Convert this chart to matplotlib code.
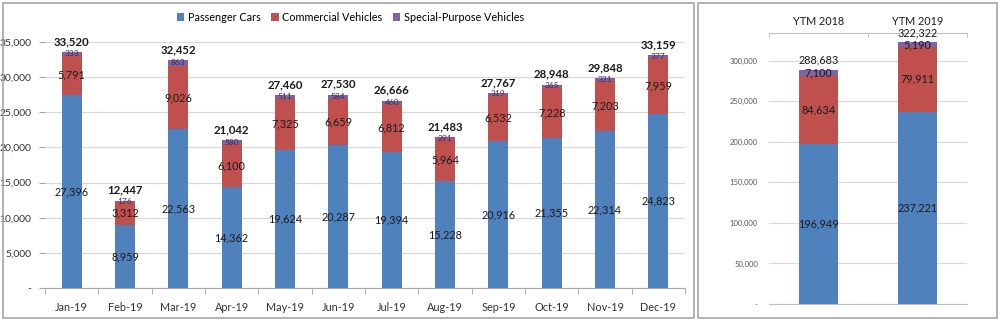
import matplotlib.pyplot as plt
from matplotlib.patches import Rectangle
import numpy as np

plt.rcParams['font.family'] = ['Lato', 'DejaVu Sans']

# monthly sales 2019
months = ['Jan-19', 'Feb-19', 'Mar-19', 'Apr-19', 'May-19', 'Jun-19',
          'Jul-19', 'Aug-19', 'Sep-19', 'Oct-19', 'Nov-19', 'Dec-19']
passenger = [27396, 8959, 22563, 14362, 19624, 20287, 19394, 15228, 20916, 21355, 22314, 24823]
commercial = [5791, 3312, 9026, 6100, 7325, 6659, 6812, 5964, 6532, 7228, 7203, 7959]
special = [333, 176, 863, 580, 511, 584, 460, 291, 319, 365, 331, 377]

# year-to-month totals
ytm_labels = ['YTM 2018', 'YTM 2019']
ytm_passenger = [196949, 237221]
ytm_commercial = [84634, 79911]
ytm_special = [7100, 5190]

c_pass = '#4F81BD'
c_comm = '#C0504D'
c_spec = '#8064A2'
grid_c = '#d9d9d9'

fig = plt.figure(figsize=(10, 3.23), dpi=100)

# panel frames
fig.patches.append(Rectangle((0.003, 0.015), 0.691, 0.975, transform=fig.transFigure,
                             fill=False, edgecolor='#a6a6a6', linewidth=1.2))
fig.patches.append(Rectangle((0.698, 0.015), 0.299, 0.975, transform=fig.transFigure,
                             fill=False, edgecolor='#a6a6a6', linewidth=1.2))

# ---- monthly chart ----
ax = fig.add_axes([0.045, 0.1084, 0.64, 0.805])
x = np.arange(len(months))
w = 0.38
p = np.array(passenger)
c = np.array(commercial)
s = np.array(special)
tot = p + c + s

ax.bar(x, p, w, color=c_pass, label='Passenger Cars', zorder=3)
ax.bar(x, c, w, bottom=p, color=c_comm, label='Commercial Vehicles', zorder=3)
ax.bar(x, s, w, bottom=p + c, color=c_spec, label='Special-Purpose Vehicles', zorder=3)

for i in range(len(months)):
    ax.text(x[i], p[i] / 2, f'{p[i]:,}', ha='center', va='center', fontsize=7.8, color='#1a1a1a', zorder=4)
    ax.text(x[i], p[i] + c[i] / 2, f'{c[i]:,}', ha='center', va='center', fontsize=7.8, color='#1a1a1a', zorder=4)
    ax.text(x[i], p[i] + c[i] + s[i] / 2, f'{s[i]:,}', ha='center', va='center', fontsize=6,
            color='#3b2d5c', zorder=4)
    ax.text(x[i], tot[i] + 700, f'{tot[i]:,}', ha='center', va='bottom', fontsize=8.2,
            fontweight='bold', color='#1a1a1a', zorder=4)

ax.set_xlim(-0.5, len(months) - 0.5)
ax.set_ylim(0, 37000)
ax.set_yticks(range(0, 35001, 5000))
ax.set_yticklabels(['-'] + [f'{v:,}' for v in range(5000, 35001, 5000)], fontsize=7.5, color='#333333')
ax.set_xticks(x)
ax.set_xticklabels(months, fontsize=7.8, color='#333333')
ax.set_xticks(np.arange(-0.5, len(months)), minor=True)
ax.tick_params(axis='x', which='major', length=0, pad=10)
ax.tick_params(axis='x', which='minor', length=4, color='#a6a6a6')
ax.tick_params(axis='y', length=4, color='#a6a6a6', pad=6)
ax.yaxis.grid(True, color=grid_c, linewidth=0.9, zorder=0)
for sp in ['top', 'right', 'left']:
    ax.spines[sp].set_visible(False)
ax.spines['bottom'].set_color('#a6a6a6')

ax.legend(loc='upper center', bbox_to_anchor=(0.477, 1.1), ncol=3, frameon=False,
          fontsize=7.8, handlelength=0.7, handleheight=0.7, handletextpad=0.3,
          columnspacing=1.0)

# ---- year-to-month chart ----
ax2 = fig.add_axes([0.769, 0.0588, 0.198, 0.839])
xy = np.arange(len(ytm_labels))
yp = np.array(ytm_passenger)
yc = np.array(ytm_commercial)
ys = np.array(ytm_special)
yt = yp + yc + ys
w2 = 0.39

ax2.bar(xy, yp, w2, color=c_pass, zorder=3)
ax2.bar(xy, yc, w2, bottom=yp, color=c_comm, zorder=3)
ax2.bar(xy, ys, w2, bottom=yp + yc, color=c_spec, zorder=3)

for i in range(len(ytm_labels)):
    ax2.text(xy[i], yp[i] / 2, f'{yp[i]:,}', ha='center', va='center', fontsize=7.8, color='#1a1a1a', zorder=4)
    ax2.text(xy[i], yp[i] + yc[i] / 2, f'{yc[i]:,}', ha='center', va='center', fontsize=7.8, color='#1a1a1a', zorder=4)
    ax2.text(xy[i], yp[i] + yc[i] + ys[i] / 2, f'{ys[i]:,}', ha='center', va='center', fontsize=7.8,
             color='#1a1a1a', zorder=4)
    ax2.text(xy[i], yt[i] + 5000, f'{yt[i]:,}', ha='center', va='bottom', fontsize=7.8,
             color='#1a1a1a', zorder=4)

ax2.set_xlim(-0.5, len(ytm_labels) - 0.5)
ax2.set_ylim(0, 334000)
ax2.set_yticks(range(0, 300001, 50000))
ax2.set_yticklabels(['-'] + [f'{v:,}' for v in range(50000, 300001, 50000)], fontsize=5.5, color='#595959')
ax2.tick_params(axis='y', length=0, pad=8)
ax2.xaxis.tick_top()
ax2.set_xticks(xy)
ax2.set_xticklabels(ytm_labels, fontsize=7.8, color='#1a1a1a')
ax2.set_xticks(np.arange(-0.5, len(ytm_labels)), minor=True)
ax2.tick_params(axis='x', which='major', length=0, pad=4)
ax2.tick_params(axis='x', which='minor', length=3, direction='in', color='#bfbfbf', top=True, bottom=False)
ax2.yaxis.grid(True, color=grid_c, linewidth=0.9, zorder=0)
for sp in ['right', 'left']:
    ax2.spines[sp].set_visible(False)
ax2.spines['top'].set_color('#bfbfbf')
ax2.spines['bottom'].set_color('#bfbfbf')

fig.savefig('out.png', dpi=100)
